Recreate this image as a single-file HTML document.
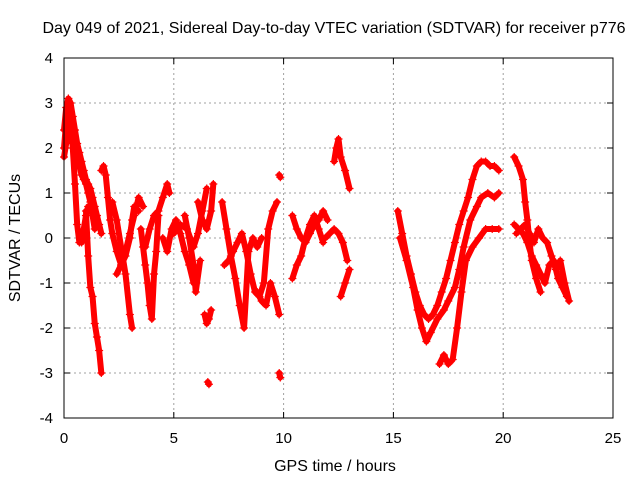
<!DOCTYPE html>
<html><head><meta charset="utf-8"><style>
body{margin:0;background:#fff}
svg{display:block;font-family:"Liberation Sans",sans-serif}
</style></head><body>
<svg id="chart" width="640" height="480" viewBox="0 0 640 480">
<rect width="640" height="480" fill="#fff"/>
<text x="334" y="33" text-anchor="middle" font-size="16">Day 049 of 2021, Sidereal Day-to-day VTEC variation (SDTVAR) for receiver p776</text>
<g id="grid"></g>
<g id="axes"></g>
<g id="marks"></g>
<rect x="64" y="58" width="549" height="360" fill="none" stroke="#000" stroke-width="1"/>
<text x="335" y="471" text-anchor="middle" font-size="16">GPS time / hours</text>
<text transform="translate(20,238) rotate(-90)" text-anchor="middle" font-size="16">SDTVAR / TECUs</text>
</svg>
<script>
const xTicks=[0,5,10,15,20,25];
const yTicks=[-4,-3,-2,-1,0,1,2,3,4];
const tracks=[
[[0,0.1,0.2,0.3,0.4,0.5,0.6,0.7,0.8,0.9,1.0,1.1,1.2,1.3,1.4,1.5,1.6,1.7],[2.4,2.9,3.1,3.0,2.7,2.4,2.1,1.9,1.7,1.5,1.3,1.2,1.1,0.9,0.7,0.5,0.3,0.1]],
[[0,0.1,0.2,0.3,0.4,0.5,0.6,0.7,0.8,0.9,1.0,1.1,1.2,1.3,1.4],[2.0,2.6,2.8,2.7,2.5,2.2,1.9,1.6,1.4,1.3,1.2,1.0,0.8,0.5,0.2]],
[[0,0.1,0.2,0.3,0.4,0.5,0.6,0.7,0.8,0.9,1.0,1.1,1.2],[1.8,2.1,2.4,2.6,2.0,1.2,0.3,-0.1,-0.1,0.2,0.5,0.7,0.6]],
[[1.0,1.1,1.2,1.3,1.4,1.5,1.6,1.7],[0.6,-0.4,-1.1,-1.3,-1.9,-2.2,-2.5,-3.0]],
[[1.7,1.8,1.9,2.0,2.1,2.2,2.4,2.6,2.8,3.0,3.1,3.2,3.4],[1.5,1.6,1.4,0.9,0.4,0.1,-0.3,-0.6,-0.4,0,0.4,0.7,0.6]],
[[2.2,2.4,2.6,2.8,3.0,3.1],[0.8,0.4,-0.2,-0.8,-1.7,-2.0]],
[[2.4,2.6,2.8,3.0,3.2,3.4,3.6],[-0.8,-0.6,-0.3,0.1,0.5,0.9,0.7]],
[[3.5,3.6,3.7,3.8,3.9,4.0,4.1,4.2,4.3],[0.2,-0.2,-0.6,-1.0,-1.5,-1.8,-0.8,-0.3,0.5]],
[[3.7,3.9,4.1,4.3,4.5,4.7,4.8],[-0.2,0.2,0.5,0.6,0.9,1.2,1.0]],
[[4.5,4.7,4.9,5.1,5.3,5.5,5.7,5.9],[0.0,-0.3,0.2,0.4,0.1,-0.3,-0.6,-1.0]],
[[5.0,5.3,5.6,5.9,6.1,6.3,6.5],[0.1,0.3,0.2,-0.2,0.1,0.6,1.1]],
[[5.5,5.7,5.9,6.0,6.2],[0.5,0.0,-0.6,-1.2,-0.5]],
[[6.1,6.3,6.5,6.7,6.8],[0.8,0.4,0.2,0.6,1.2]],
[[6.4,6.5,6.6,6.7],[-1.7,-1.9,-1.8,-1.6]],
[[6.55,6.6],[-3.2,-3.25]],
[[7.2,7.4,7.6,7.8,8.0,8.2,8.4,8.6,8.8,9.0],[0.8,0.2,-0.4,-0.9,-1.5,-2.0,-0.3,0.0,-0.2,0.0]],
[[7.3,7.5,7.7,7.9,8.1,8.3,8.5,8.7,8.9,9.1,9.3,9.5,9.7],[-0.6,-0.5,-0.3,-0.1,0.1,-0.3,-0.8,-1.2,-1.3,-1.0,0.2,0.6,0.8]],
[[8.8,9.0,9.2,9.4,9.6,9.8],[-1.2,-1.4,-1.5,-1.0,-1.3,-1.7]],
[[9.8,9.85],[1.4,1.35]],
[[9.8,9.85],[-3.0,-3.1]],
[[10.4,10.6,10.8,11.0,11.2,11.4,11.6,11.8,12.0],[0.5,0.2,0.0,-0.1,0.1,0.3,0.4,0.6,0.4]],
[[10.4,10.6,10.8,11.0,11.2,11.4,11.6,11.8],[-0.9,-0.6,-0.4,0.0,0.3,0.5,0.2,-0.1]],
[[11.9,12.1,12.3,12.5,12.7,12.9],[0.0,0.1,0.2,0.1,-0.1,-0.5]],
[[12.3,12.4,12.5,12.6,12.8,13.0],[1.7,2.0,2.2,1.8,1.5,1.1]],
[[12.6,12.8,13.0],[-1.3,-1.0,-0.7]],
[[15.2,15.4,15.6,15.8,16.0,16.2,16.4,16.6,16.8,17.0,17.2,17.4,17.6,17.8,18.0,18.2,18.4,18.6,18.8,19.0,19.2,19.4,19.6,19.8],[0.6,0.1,-0.4,-0.8,-1.2,-1.5,-1.7,-1.8,-1.7,-1.5,-1.2,-0.9,-0.5,-0.1,0.3,0.6,0.9,1.3,1.6,1.7,1.7,1.6,1.6,1.5]],
[[15.3,15.6,15.9,16.1,16.3,16.5,16.7,17.0,17.3,17.5,17.8,18.0,18.2,18.5,18.8,19.0,19.3,19.6,19.8],[0,-0.5,-1.1,-1.6,-2.0,-2.3,-2.1,-1.8,-1.6,-1.4,-1.1,-0.7,-0.2,0.4,0.7,0.9,1.0,0.9,1.0]],
[[17.1,17.3,17.5,17.7,17.9,18.1,18.3,18.6,18.9,19.2,19.5,19.8],[-2.8,-2.6,-2.8,-2.7,-2.0,-1.2,-0.5,-0.2,0,0.2,0.2,0.2]],
[[20.5,20.7,20.9,21.0,21.1,21.2,21.3,21.5,21.7],[1.8,1.6,1.3,0.8,0.4,-0.1,-0.5,-0.9,-1.2]],
[[20.5,20.7,20.9,21.1,21.3,21.5,21.7,21.9,22.1,22.3,22.5,22.7,22.9],[0.3,0.2,0.1,-0.1,-0.4,-0.6,-0.8,-1.0,-0.6,-0.5,-0.9,-1.1,-1.3]],
[[20.6,20.8,21.0,21.2,21.4,21.6,21.8,22.0,22.2,22.4,22.6,22.8,23.0],[0.1,0.2,0.3,0.1,-0.1,0.2,0.0,-0.1,-0.4,-0.7,-0.5,-1.0,-1.4]]
];
const NS='http://www.w3.org/2000/svg';
const X0=64,X1=613,Y0=418,Y1=58;
function xs(v){return X0+(v-0)/(25-0)*(X1-X0);}
function ys(v){return Y0-(v+4)/8*(Y0-Y1);}
function mk(tag,a){const e=document.createElementNS(NS,tag);for(const k in a)e.setAttribute(k,a[k]);return e;}
const grid=document.getElementById('grid'),axes=document.getElementById('axes'),marks=document.getElementById('marks');
xTicks.forEach(t=>{const x=xs(t);
 if(t>0&&t<25){const g=mk('line',{x1:x,y1:Y1,x2:x,y2:Y0,stroke:'#a0a0a0','stroke-dasharray':'2,3'});
 
 grid.appendChild(g);}
 const tk=mk('path',{d:`M${x},${Y0}v-6M${x},${Y1}v6`,stroke:'#000'});
 
 axes.appendChild(tk);
 const l=mk('text',{x:x,y:443,'text-anchor':'middle','font-size':'15'});l.textContent=t;
 
 axes.appendChild(l);});
yTicks.forEach(t=>{const y=ys(t);
 if(t>-4&&t<4){const g=mk('line',{x1:X0,y1:y,x2:X1,y2:y,stroke:'#a0a0a0','stroke-dasharray':'2,3'});
 
 grid.appendChild(g);}
 const tk=mk('path',{d:`M${X0},${y}h6M${X1},${y}h-6`,stroke:'#000'});
 
 axes.appendChild(tk);
 const l=mk('text',{x:53,y:y+5,'text-anchor':'end','font-size':'15'});l.textContent=t;
 
 axes.appendChild(l);});
tracks.forEach(tr=>{const [T,V]=tr;
 const pts=T.map((t,i)=>xs(t)+','+ys(V[i])).join(' ');
 const pl=mk('polyline',{points:pts,fill:'none',stroke:'#f00','stroke-width':'6','stroke-linejoin':'round','stroke-linecap':'round'});
 
 marks.appendChild(pl);
 T.forEach((t,i)=>{const x=xs(t),y=ys(V[i]);
  const p=mk('path',{d:`M${x-4},${y}h8M${x},${y-4}v8`,stroke:'#f00','stroke-width':'1.2'});
  
  marks.appendChild(p);});});
</script>
</body></html>
